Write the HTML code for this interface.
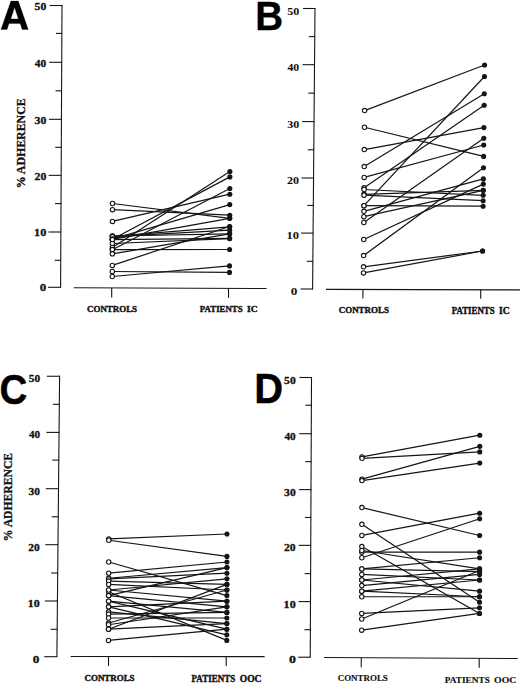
<!DOCTYPE html>
<html><head><meta charset="utf-8"><style>
html,body{margin:0;padding:0;background:#fff;}
body{width:520px;height:684px;overflow:hidden;font-family:"Liberation Sans",sans-serif;}
svg{display:block;}
</style></head><body>
<svg width="520" height="684" viewBox="0 0 520 684">
<rect width="520" height="684" fill="#fff"/>
<path fill="#000" fill-rule="evenodd" stroke="#000" stroke-width="0.3" stroke-linejoin="round" d="M1.0 29.4 L10.9 1.1 L18.3 1.1 L28.2 29.4 L22.2 29.4 L20.2 23.4 L9.0 23.4 L7.0 29.4 Z M14.6 7.3 L18.4 18.9 L10.8 18.9 Z"/>
<line x1="62.00" y1="5.00" x2="60.60" y2="287.80" stroke="#151515" stroke-width="1.1"/>
<line x1="48.10" y1="287.30" x2="60.90" y2="287.30" stroke="#151515" stroke-width="1.1"/>
<line x1="54.73" y1="260.30" x2="61.03" y2="260.30" stroke="#151515" stroke-width="1.1"/>
<line x1="48.37" y1="232.00" x2="61.17" y2="232.00" stroke="#151515" stroke-width="1.1"/>
<line x1="55.02" y1="203.60" x2="61.32" y2="203.60" stroke="#151515" stroke-width="1.1"/>
<line x1="48.66" y1="175.35" x2="61.46" y2="175.35" stroke="#151515" stroke-width="1.1"/>
<line x1="55.30" y1="147.32" x2="61.60" y2="147.32" stroke="#151515" stroke-width="1.1"/>
<line x1="48.93" y1="119.30" x2="61.73" y2="119.30" stroke="#151515" stroke-width="1.1"/>
<line x1="55.58" y1="90.80" x2="61.88" y2="90.80" stroke="#151515" stroke-width="1.1"/>
<line x1="49.22" y1="62.30" x2="62.02" y2="62.30" stroke="#151515" stroke-width="1.1"/>
<line x1="55.86" y1="33.40" x2="62.16" y2="33.40" stroke="#151515" stroke-width="1.1"/>
<line x1="49.50" y1="5.50" x2="62.30" y2="5.50" stroke="#151515" stroke-width="1.1"/>
<line x1="73.75" y1="287.75" x2="266.50" y2="288.50" stroke="#151515" stroke-width="1.1"/>
<line x1="111.70" y1="287.90" x2="111.70" y2="297.40" stroke="#151515" stroke-width="1.1"/>
<line x1="228.50" y1="288.35" x2="228.50" y2="297.85" stroke="#151515" stroke-width="1.1"/>
<text x="39.86" y="291.34" font-family='"Liberation Serif", serif' font-weight="bold" font-size="10.97" textLength="6.49" lengthAdjust="spacingAndGlyphs" fill="#111"  stroke="#111" stroke-width="0.3" stroke-linejoin="round">0</text>
<text x="34.07" y="236.45" font-family='"Liberation Serif", serif' font-weight="bold" font-size="10.37" textLength="12.25" lengthAdjust="spacingAndGlyphs" fill="#111"  stroke="#111" stroke-width="0.3" stroke-linejoin="round">10</text>
<text x="34.56" y="179.80" font-family='"Liberation Serif", serif' font-weight="bold" font-size="10.37" textLength="11.74" lengthAdjust="spacingAndGlyphs" fill="#111"  stroke="#111" stroke-width="0.3" stroke-linejoin="round">20</text>
<text x="34.61" y="123.75" font-family='"Liberation Serif", serif' font-weight="bold" font-size="10.37" textLength="11.68" lengthAdjust="spacingAndGlyphs" fill="#111"  stroke="#111" stroke-width="0.3" stroke-linejoin="round">30</text>
<text x="34.89" y="66.75" font-family='"Liberation Serif", serif' font-weight="bold" font-size="10.37" textLength="11.39" lengthAdjust="spacingAndGlyphs" fill="#111"  stroke="#111" stroke-width="0.3" stroke-linejoin="round">40</text>
<text x="34.58" y="9.95" font-family='"Liberation Serif", serif' font-weight="bold" font-size="10.37" textLength="11.72" lengthAdjust="spacingAndGlyphs" fill="#111"  stroke="#111" stroke-width="0.3" stroke-linejoin="round">50</text>
<text transform="translate(25.39,188.36) rotate(-90)" x="0" y="0" font-family='"Liberation Serif", serif' font-weight="bold" font-size="11.80" textLength="90.01" lengthAdjust="spacingAndGlyphs" fill="#111" stroke="#111" stroke-width="0.3" stroke-linejoin="round">% ADHERENCE</text>
<text x="87.01" y="311.61" font-family='"Liberation Serif", serif' font-weight="bold" font-size="8.78" textLength="50.06" lengthAdjust="spacingAndGlyphs" fill="#111"  stroke="#111" stroke-width="0.4" stroke-linejoin="round">CONTROLS</text>
<text x="199.80" y="312.21" font-family='"Liberation Serif", serif' font-weight="bold" font-size="9.08" textLength="42.86" lengthAdjust="spacingAndGlyphs" fill="#111"  stroke="#111" stroke-width="0.4" stroke-linejoin="round">PATIENTS</text>
<text x="247.13" y="312.21" font-family='"Liberation Serif", serif' font-weight="bold" font-size="9.08" textLength="10.65" lengthAdjust="spacingAndGlyphs" fill="#111"  stroke="#111" stroke-width="0.4" stroke-linejoin="round">IC</text>
<line x1="112.49" y1="203.50" x2="229.71" y2="218.30" stroke="#151515" stroke-width="1.2"/>
<line x1="112.47" y1="209.70" x2="229.72" y2="215.20" stroke="#151515" stroke-width="1.2"/>
<line x1="112.44" y1="221.40" x2="229.81" y2="194.20" stroke="#151515" stroke-width="1.2"/>
<line x1="112.41" y1="236.00" x2="229.65" y2="233.80" stroke="#151515" stroke-width="1.2"/>
<line x1="112.41" y1="236.30" x2="229.68" y2="226.80" stroke="#151515" stroke-width="1.2"/>
<line x1="112.40" y1="236.60" x2="229.67" y2="230.20" stroke="#151515" stroke-width="1.2"/>
<line x1="112.40" y1="239.20" x2="229.88" y2="176.90" stroke="#151515" stroke-width="1.2"/>
<line x1="112.40" y1="239.20" x2="229.77" y2="204.60" stroke="#151515" stroke-width="1.2"/>
<line x1="112.40" y1="239.40" x2="229.71" y2="218.30" stroke="#151515" stroke-width="1.2"/>
<line x1="112.39" y1="243.50" x2="229.63" y2="238.60" stroke="#151515" stroke-width="1.2"/>
<line x1="112.38" y1="247.50" x2="229.90" y2="171.50" stroke="#151515" stroke-width="1.2"/>
<line x1="112.37" y1="249.80" x2="229.83" y2="188.50" stroke="#151515" stroke-width="1.2"/>
<line x1="112.37" y1="249.60" x2="229.59" y2="249.50" stroke="#151515" stroke-width="1.2"/>
<line x1="112.36" y1="253.80" x2="229.65" y2="233.80" stroke="#151515" stroke-width="1.2"/>
<line x1="112.33" y1="265.40" x2="229.68" y2="226.50" stroke="#151515" stroke-width="1.2"/>
<line x1="112.31" y1="271.50" x2="229.50" y2="272.40" stroke="#151515" stroke-width="1.2"/>
<line x1="112.30" y1="276.50" x2="229.52" y2="265.90" stroke="#151515" stroke-width="1.2"/>
<line x1="112.40" y1="239.60" x2="229.63" y2="238.40" stroke="#151515" stroke-width="1.2"/>
<circle cx="229.71" cy="218.30" r="2.55" fill="#151515"/>
<circle cx="229.72" cy="215.20" r="2.55" fill="#151515"/>
<circle cx="229.81" cy="194.20" r="2.55" fill="#151515"/>
<circle cx="229.65" cy="233.80" r="2.55" fill="#151515"/>
<circle cx="229.68" cy="226.80" r="2.55" fill="#151515"/>
<circle cx="229.67" cy="230.20" r="2.55" fill="#151515"/>
<circle cx="229.88" cy="176.90" r="2.55" fill="#151515"/>
<circle cx="229.77" cy="204.60" r="2.55" fill="#151515"/>
<circle cx="229.71" cy="218.30" r="2.55" fill="#151515"/>
<circle cx="229.63" cy="238.60" r="2.55" fill="#151515"/>
<circle cx="229.90" cy="171.50" r="2.55" fill="#151515"/>
<circle cx="229.83" cy="188.50" r="2.55" fill="#151515"/>
<circle cx="229.59" cy="249.50" r="2.55" fill="#151515"/>
<circle cx="229.65" cy="233.80" r="2.55" fill="#151515"/>
<circle cx="229.68" cy="226.50" r="2.55" fill="#151515"/>
<circle cx="229.50" cy="272.40" r="2.55" fill="#151515"/>
<circle cx="229.52" cy="265.90" r="2.55" fill="#151515"/>
<circle cx="229.63" cy="238.40" r="2.55" fill="#151515"/>
<circle cx="112.49" cy="203.50" r="2.2" fill="#fff" stroke="#151515" stroke-width="1.1"/>
<circle cx="112.47" cy="209.70" r="2.2" fill="#fff" stroke="#151515" stroke-width="1.1"/>
<circle cx="112.44" cy="221.40" r="2.2" fill="#fff" stroke="#151515" stroke-width="1.1"/>
<circle cx="112.41" cy="236.00" r="2.2" fill="#fff" stroke="#151515" stroke-width="1.1"/>
<circle cx="112.41" cy="236.30" r="2.2" fill="#fff" stroke="#151515" stroke-width="1.1"/>
<circle cx="112.40" cy="236.60" r="2.2" fill="#fff" stroke="#151515" stroke-width="1.1"/>
<circle cx="112.40" cy="239.20" r="2.2" fill="#fff" stroke="#151515" stroke-width="1.1"/>
<circle cx="112.40" cy="239.20" r="2.2" fill="#fff" stroke="#151515" stroke-width="1.1"/>
<circle cx="112.40" cy="239.40" r="2.2" fill="#fff" stroke="#151515" stroke-width="1.1"/>
<circle cx="112.39" cy="243.50" r="2.2" fill="#fff" stroke="#151515" stroke-width="1.1"/>
<circle cx="112.38" cy="247.50" r="2.2" fill="#fff" stroke="#151515" stroke-width="1.1"/>
<circle cx="112.37" cy="249.80" r="2.2" fill="#fff" stroke="#151515" stroke-width="1.1"/>
<circle cx="112.37" cy="249.60" r="2.2" fill="#fff" stroke="#151515" stroke-width="1.1"/>
<circle cx="112.36" cy="253.80" r="2.2" fill="#fff" stroke="#151515" stroke-width="1.1"/>
<circle cx="112.33" cy="265.40" r="2.2" fill="#fff" stroke="#151515" stroke-width="1.1"/>
<circle cx="112.31" cy="271.50" r="2.2" fill="#fff" stroke="#151515" stroke-width="1.1"/>
<circle cx="112.30" cy="276.50" r="2.2" fill="#fff" stroke="#151515" stroke-width="1.1"/>
<circle cx="112.40" cy="239.60" r="2.2" fill="#fff" stroke="#151515" stroke-width="1.1"/>
<text x="255.32" y="29.80" font-family='"Liberation Sans", sans-serif' font-weight="bold" font-size="41.57" textLength="27.83" lengthAdjust="spacingAndGlyphs" fill="#000"  stroke="#000" stroke-width="0.4" stroke-linejoin="round">B</text>
<line x1="315.00" y1="8.00" x2="312.60" y2="289.50" stroke="#151515" stroke-width="1.1"/>
<line x1="300.60" y1="289.00" x2="312.90" y2="289.00" stroke="#151515" stroke-width="1.1"/>
<line x1="306.84" y1="261.30" x2="313.14" y2="261.30" stroke="#151515" stroke-width="1.1"/>
<line x1="301.08" y1="233.10" x2="313.38" y2="233.10" stroke="#151515" stroke-width="1.1"/>
<line x1="307.32" y1="205.40" x2="313.62" y2="205.40" stroke="#151515" stroke-width="1.1"/>
<line x1="301.55" y1="178.00" x2="313.85" y2="178.00" stroke="#151515" stroke-width="1.1"/>
<line x1="307.79" y1="149.80" x2="314.09" y2="149.80" stroke="#151515" stroke-width="1.1"/>
<line x1="302.03" y1="121.60" x2="314.33" y2="121.60" stroke="#151515" stroke-width="1.1"/>
<line x1="308.28" y1="93.15" x2="314.58" y2="93.15" stroke="#151515" stroke-width="1.1"/>
<line x1="302.52" y1="64.70" x2="314.82" y2="64.70" stroke="#151515" stroke-width="1.1"/>
<line x1="308.76" y1="36.60" x2="315.06" y2="36.60" stroke="#151515" stroke-width="1.1"/>
<line x1="303.00" y1="8.50" x2="315.30" y2="8.50" stroke="#151515" stroke-width="1.1"/>
<line x1="326.00" y1="289.40" x2="520.00" y2="289.90" stroke="#151515" stroke-width="1.1"/>
<line x1="362.90" y1="289.50" x2="362.90" y2="298.50" stroke="#151515" stroke-width="1.1"/>
<line x1="480.70" y1="289.80" x2="480.70" y2="298.80" stroke="#151515" stroke-width="1.1"/>
<text x="290.77" y="294.77" font-family='"Liberation Serif", serif' font-weight="bold" font-size="10.45" textLength="6.61" lengthAdjust="spacingAndGlyphs" fill="#111"  stroke="#111" stroke-width="0.05" stroke-linejoin="round">0</text>
<text x="286.62" y="239.37" font-family='"Liberation Serif", serif' font-weight="bold" font-size="10.45" textLength="12.53" lengthAdjust="spacingAndGlyphs" fill="#111"  stroke="#111" stroke-width="0.05" stroke-linejoin="round">10</text>
<text x="287.12" y="184.27" font-family='"Liberation Serif", serif' font-weight="bold" font-size="10.45" textLength="12.01" lengthAdjust="spacingAndGlyphs" fill="#111"  stroke="#111" stroke-width="0.05" stroke-linejoin="round">20</text>
<text x="287.18" y="127.87" font-family='"Liberation Serif", serif' font-weight="bold" font-size="10.45" textLength="11.95" lengthAdjust="spacingAndGlyphs" fill="#111"  stroke="#111" stroke-width="0.05" stroke-linejoin="round">30</text>
<text x="287.47" y="70.97" font-family='"Liberation Serif", serif' font-weight="bold" font-size="10.45" textLength="11.65" lengthAdjust="spacingAndGlyphs" fill="#111"  stroke="#111" stroke-width="0.05" stroke-linejoin="round">40</text>
<text x="287.15" y="14.77" font-family='"Liberation Serif", serif' font-weight="bold" font-size="10.45" textLength="11.99" lengthAdjust="spacingAndGlyphs" fill="#111"  stroke="#111" stroke-width="0.05" stroke-linejoin="round">50</text>
<text x="338.76" y="313.21" font-family='"Liberation Serif", serif' font-weight="bold" font-size="8.71" textLength="50.17" lengthAdjust="spacingAndGlyphs" fill="#111"  stroke="#111" stroke-width="0.4" stroke-linejoin="round">CONTROLS</text>
<text x="451.65" y="314.01" font-family='"Liberation Serif", serif' font-weight="bold" font-size="9.38" textLength="43.01" lengthAdjust="spacingAndGlyphs" fill="#111"  stroke="#111" stroke-width="0.4" stroke-linejoin="round">PATIENTS</text>
<text x="499.08" y="314.01" font-family='"Liberation Serif", serif' font-weight="bold" font-size="9.38" textLength="10.65" lengthAdjust="spacingAndGlyphs" fill="#111"  stroke="#111" stroke-width="0.4" stroke-linejoin="round">IC</text>
<line x1="364.60" y1="110.60" x2="484.60" y2="65.00" stroke="#151515" stroke-width="1.2"/>
<line x1="364.48" y1="127.25" x2="483.62" y2="156.40" stroke="#151515" stroke-width="1.2"/>
<line x1="364.33" y1="149.60" x2="483.93" y2="127.60" stroke="#151515" stroke-width="1.2"/>
<line x1="364.22" y1="166.60" x2="484.29" y2="93.75" stroke="#151515" stroke-width="1.2"/>
<line x1="364.15" y1="177.40" x2="483.74" y2="145.00" stroke="#151515" stroke-width="1.2"/>
<line x1="364.07" y1="187.80" x2="484.17" y2="105.25" stroke="#151515" stroke-width="1.2"/>
<line x1="364.06" y1="189.50" x2="483.20" y2="195.30" stroke="#151515" stroke-width="1.2"/>
<line x1="364.03" y1="194.30" x2="483.25" y2="190.30" stroke="#151515" stroke-width="1.2"/>
<line x1="364.03" y1="195.20" x2="483.14" y2="200.70" stroke="#151515" stroke-width="1.2"/>
<line x1="363.95" y1="205.70" x2="484.48" y2="76.50" stroke="#151515" stroke-width="1.2"/>
<line x1="363.95" y1="205.70" x2="483.08" y2="206.20" stroke="#151515" stroke-width="1.2"/>
<line x1="363.92" y1="211.30" x2="483.38" y2="178.90" stroke="#151515" stroke-width="1.2"/>
<line x1="363.88" y1="216.70" x2="483.25" y2="190.30" stroke="#151515" stroke-width="1.2"/>
<line x1="363.84" y1="222.50" x2="483.81" y2="138.30" stroke="#151515" stroke-width="1.2"/>
<line x1="363.73" y1="239.50" x2="483.32" y2="184.10" stroke="#151515" stroke-width="1.2"/>
<line x1="363.62" y1="255.60" x2="483.49" y2="167.80" stroke="#151515" stroke-width="1.2"/>
<line x1="363.54" y1="266.80" x2="482.60" y2="251.00" stroke="#151515" stroke-width="1.2"/>
<line x1="363.50" y1="272.90" x2="482.60" y2="251.00" stroke="#151515" stroke-width="1.2"/>
<circle cx="484.60" cy="65.00" r="2.55" fill="#151515"/>
<circle cx="483.62" cy="156.40" r="2.55" fill="#151515"/>
<circle cx="483.93" cy="127.60" r="2.55" fill="#151515"/>
<circle cx="484.29" cy="93.75" r="2.55" fill="#151515"/>
<circle cx="483.74" cy="145.00" r="2.55" fill="#151515"/>
<circle cx="484.17" cy="105.25" r="2.55" fill="#151515"/>
<circle cx="483.20" cy="195.30" r="2.55" fill="#151515"/>
<circle cx="483.25" cy="190.30" r="2.55" fill="#151515"/>
<circle cx="483.14" cy="200.70" r="2.55" fill="#151515"/>
<circle cx="484.48" cy="76.50" r="2.55" fill="#151515"/>
<circle cx="483.08" cy="206.20" r="2.55" fill="#151515"/>
<circle cx="483.38" cy="178.90" r="2.55" fill="#151515"/>
<circle cx="483.25" cy="190.30" r="2.55" fill="#151515"/>
<circle cx="483.81" cy="138.30" r="2.55" fill="#151515"/>
<circle cx="483.32" cy="184.10" r="2.55" fill="#151515"/>
<circle cx="483.49" cy="167.80" r="2.55" fill="#151515"/>
<circle cx="482.60" cy="251.00" r="2.55" fill="#151515"/>
<circle cx="482.60" cy="251.00" r="2.55" fill="#151515"/>
<circle cx="364.60" cy="110.60" r="2.2" fill="#fff" stroke="#151515" stroke-width="1.1"/>
<circle cx="364.48" cy="127.25" r="2.2" fill="#fff" stroke="#151515" stroke-width="1.1"/>
<circle cx="364.33" cy="149.60" r="2.2" fill="#fff" stroke="#151515" stroke-width="1.1"/>
<circle cx="364.22" cy="166.60" r="2.2" fill="#fff" stroke="#151515" stroke-width="1.1"/>
<circle cx="364.15" cy="177.40" r="2.2" fill="#fff" stroke="#151515" stroke-width="1.1"/>
<circle cx="364.07" cy="187.80" r="2.2" fill="#fff" stroke="#151515" stroke-width="1.1"/>
<circle cx="364.06" cy="189.50" r="2.2" fill="#fff" stroke="#151515" stroke-width="1.1"/>
<circle cx="364.03" cy="194.30" r="2.2" fill="#fff" stroke="#151515" stroke-width="1.1"/>
<circle cx="364.03" cy="195.20" r="2.2" fill="#fff" stroke="#151515" stroke-width="1.1"/>
<circle cx="363.95" cy="205.70" r="2.2" fill="#fff" stroke="#151515" stroke-width="1.1"/>
<circle cx="363.95" cy="205.70" r="2.2" fill="#fff" stroke="#151515" stroke-width="1.1"/>
<circle cx="363.92" cy="211.30" r="2.2" fill="#fff" stroke="#151515" stroke-width="1.1"/>
<circle cx="363.88" cy="216.70" r="2.2" fill="#fff" stroke="#151515" stroke-width="1.1"/>
<circle cx="363.84" cy="222.50" r="2.2" fill="#fff" stroke="#151515" stroke-width="1.1"/>
<circle cx="363.73" cy="239.50" r="2.2" fill="#fff" stroke="#151515" stroke-width="1.1"/>
<circle cx="363.62" cy="255.60" r="2.2" fill="#fff" stroke="#151515" stroke-width="1.1"/>
<circle cx="363.54" cy="266.80" r="2.2" fill="#fff" stroke="#151515" stroke-width="1.1"/>
<circle cx="363.50" cy="272.90" r="2.2" fill="#fff" stroke="#151515" stroke-width="1.1"/>
<text x="-0.38" y="404.39" font-family='"Liberation Sans", sans-serif' font-weight="bold" font-size="42.23" textLength="27.83" lengthAdjust="spacingAndGlyphs" fill="#000"  stroke="#000" stroke-width="0.4" stroke-linejoin="round">C</text>
<line x1="59.60" y1="375.75" x2="56.90" y2="657.10" stroke="#151515" stroke-width="1.1"/>
<line x1="44.20" y1="656.70" x2="57.20" y2="656.70" stroke="#151515" stroke-width="1.1"/>
<line x1="50.66" y1="629.30" x2="57.46" y2="629.30" stroke="#151515" stroke-width="1.1"/>
<line x1="44.74" y1="601.00" x2="57.74" y2="601.00" stroke="#151515" stroke-width="1.1"/>
<line x1="51.21" y1="573.00" x2="58.01" y2="573.00" stroke="#151515" stroke-width="1.1"/>
<line x1="45.28" y1="544.70" x2="58.28" y2="544.70" stroke="#151515" stroke-width="1.1"/>
<line x1="51.75" y1="516.80" x2="58.55" y2="516.80" stroke="#151515" stroke-width="1.1"/>
<line x1="45.82" y1="488.70" x2="58.82" y2="488.70" stroke="#151515" stroke-width="1.1"/>
<line x1="52.29" y1="460.10" x2="59.09" y2="460.10" stroke="#151515" stroke-width="1.1"/>
<line x1="46.36" y1="432.40" x2="59.36" y2="432.40" stroke="#151515" stroke-width="1.1"/>
<line x1="52.83" y1="404.30" x2="59.63" y2="404.30" stroke="#151515" stroke-width="1.1"/>
<line x1="46.90" y1="376.25" x2="59.90" y2="376.25" stroke="#151515" stroke-width="1.1"/>
<line x1="70.60" y1="656.50" x2="264.60" y2="656.60" stroke="#151515" stroke-width="1.1"/>
<line x1="108.50" y1="656.52" x2="108.50" y2="666.02" stroke="#151515" stroke-width="1.1"/>
<line x1="226.20" y1="656.58" x2="226.20" y2="666.08" stroke="#151515" stroke-width="1.1"/>
<text x="32.75" y="662.54" font-family='"Liberation Serif", serif' font-weight="bold" font-size="10.97" textLength="6.61" lengthAdjust="spacingAndGlyphs" fill="#111"  stroke="#111" stroke-width="0.3" stroke-linejoin="round">0</text>
<text x="27.76" y="606.95" font-family='"Liberation Serif", serif' font-weight="bold" font-size="10.08" textLength="11.91" lengthAdjust="spacingAndGlyphs" fill="#111"  stroke="#111" stroke-width="0.3" stroke-linejoin="round">10</text>
<text x="28.39" y="550.65" font-family='"Liberation Serif", serif' font-weight="bold" font-size="10.08" textLength="11.41" lengthAdjust="spacingAndGlyphs" fill="#111"  stroke="#111" stroke-width="0.3" stroke-linejoin="round">20</text>
<text x="28.60" y="494.65" font-family='"Liberation Serif", serif' font-weight="bold" font-size="10.08" textLength="11.36" lengthAdjust="spacingAndGlyphs" fill="#111"  stroke="#111" stroke-width="0.3" stroke-linejoin="round">30</text>
<text x="29.04" y="438.35" font-family='"Liberation Serif", serif' font-weight="bold" font-size="10.08" textLength="11.07" lengthAdjust="spacingAndGlyphs" fill="#111"  stroke="#111" stroke-width="0.3" stroke-linejoin="round">40</text>
<text x="28.89" y="382.20" font-family='"Liberation Serif", serif' font-weight="bold" font-size="10.08" textLength="11.39" lengthAdjust="spacingAndGlyphs" fill="#111"  stroke="#111" stroke-width="0.3" stroke-linejoin="round">50</text>
<text transform="translate(11.89,541.24) rotate(-90)" x="0" y="0" font-family='"Liberation Serif", serif' font-weight="bold" font-size="11.94" textLength="88.38" lengthAdjust="spacingAndGlyphs" fill="#111" stroke="#111" stroke-width="0.3" stroke-linejoin="round">% ADHERENCE</text>
<text x="84.51" y="680.72" font-family='"Liberation Serif", serif' font-weight="bold" font-size="8.33" textLength="50.06" lengthAdjust="spacingAndGlyphs" fill="#111"  stroke="#111" stroke-width="0.4" stroke-linejoin="round">CONTROLS</text>
<text x="191.55" y="681.61" font-family='"Liberation Serif", serif' font-weight="bold" font-size="9.67" textLength="43.62" lengthAdjust="spacingAndGlyphs" fill="#111"  stroke="#111" stroke-width="0.4" stroke-linejoin="round">PATIENTS</text>
<text x="239.73" y="681.61" font-family='"Liberation Serif", serif' font-weight="bold" font-size="9.67" textLength="21.80" lengthAdjust="spacingAndGlyphs" fill="#111"  stroke="#111" stroke-width="0.4" stroke-linejoin="round">OOC</text>
<line x1="108.80" y1="538.93" x2="227.00" y2="534.00" stroke="#151515" stroke-width="1.2"/>
<line x1="108.80" y1="540.27" x2="226.96" y2="556.40" stroke="#151515" stroke-width="1.2"/>
<line x1="108.73" y1="562.00" x2="226.88" y2="595.60" stroke="#151515" stroke-width="1.2"/>
<line x1="108.70" y1="573.20" x2="226.95" y2="562.00" stroke="#151515" stroke-width="1.2"/>
<line x1="108.68" y1="578.24" x2="226.94" y2="567.60" stroke="#151515" stroke-width="1.2"/>
<line x1="108.68" y1="578.80" x2="226.93" y2="573.20" stroke="#151515" stroke-width="1.2"/>
<line x1="108.68" y1="581.04" x2="226.90" y2="584.40" stroke="#151515" stroke-width="1.2"/>
<line x1="108.67" y1="584.40" x2="226.89" y2="590.00" stroke="#151515" stroke-width="1.2"/>
<line x1="108.65" y1="590.00" x2="226.92" y2="578.80" stroke="#151515" stroke-width="1.2"/>
<line x1="108.64" y1="591.68" x2="226.80" y2="640.40" stroke="#151515" stroke-width="1.2"/>
<line x1="108.65" y1="590.00" x2="226.87" y2="601.20" stroke="#151515" stroke-width="1.2"/>
<line x1="108.63" y1="595.60" x2="226.94" y2="567.60" stroke="#151515" stroke-width="1.2"/>
<line x1="108.63" y1="595.60" x2="226.86" y2="606.80" stroke="#151515" stroke-width="1.2"/>
<line x1="108.62" y1="601.20" x2="226.82" y2="629.20" stroke="#151515" stroke-width="1.2"/>
<line x1="108.62" y1="601.20" x2="226.85" y2="612.40" stroke="#151515" stroke-width="1.2"/>
<line x1="108.60" y1="606.80" x2="226.87" y2="601.20" stroke="#151515" stroke-width="1.2"/>
<line x1="108.60" y1="606.80" x2="226.81" y2="634.80" stroke="#151515" stroke-width="1.2"/>
<line x1="108.58" y1="611.84" x2="226.83" y2="623.60" stroke="#151515" stroke-width="1.2"/>
<line x1="108.58" y1="614.08" x2="226.85" y2="612.40" stroke="#151515" stroke-width="1.2"/>
<line x1="108.57" y1="618.00" x2="226.84" y2="618.00" stroke="#151515" stroke-width="1.2"/>
<line x1="108.55" y1="623.04" x2="226.89" y2="590.00" stroke="#151515" stroke-width="1.2"/>
<line x1="108.55" y1="624.72" x2="226.86" y2="606.80" stroke="#151515" stroke-width="1.2"/>
<line x1="108.53" y1="629.20" x2="226.90" y2="584.40" stroke="#151515" stroke-width="1.2"/>
<line x1="108.53" y1="629.20" x2="226.83" y2="623.60" stroke="#151515" stroke-width="1.2"/>
<line x1="108.50" y1="640.40" x2="226.82" y2="629.20" stroke="#151515" stroke-width="1.2"/>
<circle cx="227.00" cy="534.00" r="2.55" fill="#151515"/>
<circle cx="226.96" cy="556.40" r="2.55" fill="#151515"/>
<circle cx="226.88" cy="595.60" r="2.55" fill="#151515"/>
<circle cx="226.95" cy="562.00" r="2.55" fill="#151515"/>
<circle cx="226.94" cy="567.60" r="2.55" fill="#151515"/>
<circle cx="226.93" cy="573.20" r="2.55" fill="#151515"/>
<circle cx="226.90" cy="584.40" r="2.55" fill="#151515"/>
<circle cx="226.89" cy="590.00" r="2.55" fill="#151515"/>
<circle cx="226.92" cy="578.80" r="2.55" fill="#151515"/>
<circle cx="226.80" cy="640.40" r="2.55" fill="#151515"/>
<circle cx="226.87" cy="601.20" r="2.55" fill="#151515"/>
<circle cx="226.94" cy="567.60" r="2.55" fill="#151515"/>
<circle cx="226.86" cy="606.80" r="2.55" fill="#151515"/>
<circle cx="226.82" cy="629.20" r="2.55" fill="#151515"/>
<circle cx="226.85" cy="612.40" r="2.55" fill="#151515"/>
<circle cx="226.87" cy="601.20" r="2.55" fill="#151515"/>
<circle cx="226.81" cy="634.80" r="2.55" fill="#151515"/>
<circle cx="226.83" cy="623.60" r="2.55" fill="#151515"/>
<circle cx="226.85" cy="612.40" r="2.55" fill="#151515"/>
<circle cx="226.84" cy="618.00" r="2.55" fill="#151515"/>
<circle cx="226.89" cy="590.00" r="2.55" fill="#151515"/>
<circle cx="226.86" cy="606.80" r="2.55" fill="#151515"/>
<circle cx="226.90" cy="584.40" r="2.55" fill="#151515"/>
<circle cx="226.83" cy="623.60" r="2.55" fill="#151515"/>
<circle cx="226.82" cy="629.20" r="2.55" fill="#151515"/>
<circle cx="108.80" cy="538.93" r="2.2" fill="#fff" stroke="#151515" stroke-width="1.1"/>
<circle cx="108.80" cy="540.27" r="2.2" fill="#fff" stroke="#151515" stroke-width="1.1"/>
<circle cx="108.73" cy="562.00" r="2.2" fill="#fff" stroke="#151515" stroke-width="1.1"/>
<circle cx="108.70" cy="573.20" r="2.2" fill="#fff" stroke="#151515" stroke-width="1.1"/>
<circle cx="108.68" cy="578.24" r="2.2" fill="#fff" stroke="#151515" stroke-width="1.1"/>
<circle cx="108.68" cy="578.80" r="2.2" fill="#fff" stroke="#151515" stroke-width="1.1"/>
<circle cx="108.68" cy="581.04" r="2.2" fill="#fff" stroke="#151515" stroke-width="1.1"/>
<circle cx="108.67" cy="584.40" r="2.2" fill="#fff" stroke="#151515" stroke-width="1.1"/>
<circle cx="108.65" cy="590.00" r="2.2" fill="#fff" stroke="#151515" stroke-width="1.1"/>
<circle cx="108.64" cy="591.68" r="2.2" fill="#fff" stroke="#151515" stroke-width="1.1"/>
<circle cx="108.65" cy="590.00" r="2.2" fill="#fff" stroke="#151515" stroke-width="1.1"/>
<circle cx="108.63" cy="595.60" r="2.2" fill="#fff" stroke="#151515" stroke-width="1.1"/>
<circle cx="108.63" cy="595.60" r="2.2" fill="#fff" stroke="#151515" stroke-width="1.1"/>
<circle cx="108.62" cy="601.20" r="2.2" fill="#fff" stroke="#151515" stroke-width="1.1"/>
<circle cx="108.62" cy="601.20" r="2.2" fill="#fff" stroke="#151515" stroke-width="1.1"/>
<circle cx="108.60" cy="606.80" r="2.2" fill="#fff" stroke="#151515" stroke-width="1.1"/>
<circle cx="108.60" cy="606.80" r="2.2" fill="#fff" stroke="#151515" stroke-width="1.1"/>
<circle cx="108.58" cy="611.84" r="2.2" fill="#fff" stroke="#151515" stroke-width="1.1"/>
<circle cx="108.58" cy="614.08" r="2.2" fill="#fff" stroke="#151515" stroke-width="1.1"/>
<circle cx="108.57" cy="618.00" r="2.2" fill="#fff" stroke="#151515" stroke-width="1.1"/>
<circle cx="108.55" cy="623.04" r="2.2" fill="#fff" stroke="#151515" stroke-width="1.1"/>
<circle cx="108.55" cy="624.72" r="2.2" fill="#fff" stroke="#151515" stroke-width="1.1"/>
<circle cx="108.53" cy="629.20" r="2.2" fill="#fff" stroke="#151515" stroke-width="1.1"/>
<circle cx="108.53" cy="629.20" r="2.2" fill="#fff" stroke="#151515" stroke-width="1.1"/>
<circle cx="108.50" cy="640.40" r="2.2" fill="#fff" stroke="#151515" stroke-width="1.1"/>
<text x="254.23" y="403.40" font-family='"Liberation Sans", sans-serif' font-weight="bold" font-size="42.44" textLength="28.85" lengthAdjust="spacingAndGlyphs" fill="#000"  stroke="#000" stroke-width="0.4" stroke-linejoin="round">D</text>
<line x1="311.50" y1="377.00" x2="310.25" y2="657.60" stroke="#151515" stroke-width="1.1"/>
<line x1="298.25" y1="657.20" x2="310.55" y2="657.20" stroke="#151515" stroke-width="1.1"/>
<line x1="304.37" y1="629.70" x2="310.67" y2="629.70" stroke="#151515" stroke-width="1.1"/>
<line x1="298.50" y1="601.60" x2="310.80" y2="601.60" stroke="#151515" stroke-width="1.1"/>
<line x1="304.62" y1="573.60" x2="310.92" y2="573.60" stroke="#151515" stroke-width="1.1"/>
<line x1="298.75" y1="545.35" x2="311.05" y2="545.35" stroke="#151515" stroke-width="1.1"/>
<line x1="304.87" y1="517.48" x2="311.17" y2="517.48" stroke="#151515" stroke-width="1.1"/>
<line x1="299.00" y1="489.60" x2="311.30" y2="489.60" stroke="#151515" stroke-width="1.1"/>
<line x1="305.12" y1="461.65" x2="311.42" y2="461.65" stroke="#151515" stroke-width="1.1"/>
<line x1="299.25" y1="433.70" x2="311.55" y2="433.70" stroke="#151515" stroke-width="1.1"/>
<line x1="305.38" y1="405.25" x2="311.68" y2="405.25" stroke="#151515" stroke-width="1.1"/>
<line x1="299.50" y1="377.50" x2="311.80" y2="377.50" stroke="#151515" stroke-width="1.1"/>
<line x1="324.00" y1="657.50" x2="517.70" y2="658.50" stroke="#151515" stroke-width="1.1"/>
<line x1="361.25" y1="657.69" x2="361.25" y2="667.19" stroke="#151515" stroke-width="1.1"/>
<line x1="479.20" y1="658.30" x2="479.20" y2="667.80" stroke="#151515" stroke-width="1.1"/>
<text x="289.02" y="662.95" font-family='"Liberation Serif", serif' font-weight="bold" font-size="10.08" textLength="6.96" lengthAdjust="spacingAndGlyphs" fill="#111"  stroke="#111" stroke-width="0.3" stroke-linejoin="round">0</text>
<text x="283.58" y="607.65" font-family='"Liberation Serif", serif' font-weight="bold" font-size="10.23" textLength="12.13" lengthAdjust="spacingAndGlyphs" fill="#111"  stroke="#111" stroke-width="0.3" stroke-linejoin="round">10</text>
<text x="284.06" y="551.40" font-family='"Liberation Serif", serif' font-weight="bold" font-size="10.23" textLength="11.63" lengthAdjust="spacingAndGlyphs" fill="#111"  stroke="#111" stroke-width="0.3" stroke-linejoin="round">20</text>
<text x="284.11" y="495.65" font-family='"Liberation Serif", serif' font-weight="bold" font-size="10.23" textLength="11.58" lengthAdjust="spacingAndGlyphs" fill="#111"  stroke="#111" stroke-width="0.3" stroke-linejoin="round">30</text>
<text x="284.40" y="439.75" font-family='"Liberation Serif", serif' font-weight="bold" font-size="10.23" textLength="11.28" lengthAdjust="spacingAndGlyphs" fill="#111"  stroke="#111" stroke-width="0.3" stroke-linejoin="round">40</text>
<text x="284.09" y="383.55" font-family='"Liberation Serif", serif' font-weight="bold" font-size="10.23" textLength="11.61" lengthAdjust="spacingAndGlyphs" fill="#111"  stroke="#111" stroke-width="0.3" stroke-linejoin="round">50</text>
<text x="337.74" y="681.34" font-family='"Liberation Serif", serif' font-weight="bold" font-size="8.56" textLength="50.06" lengthAdjust="spacingAndGlyphs" fill="#111"  stroke="#111" stroke-width="0.15" stroke-linejoin="round">CONTROLS</text>
<text x="444.82" y="682.54" font-family='"Liberation Serif", serif' font-weight="bold" font-size="9.00" textLength="44.99" lengthAdjust="spacingAndGlyphs" fill="#111"  stroke="#111" stroke-width="0.15" stroke-linejoin="round">PATIENTS</text>
<text x="494.10" y="682.54" font-family='"Liberation Serif", serif' font-weight="bold" font-size="9.00" textLength="22.27" lengthAdjust="spacingAndGlyphs" fill="#111"  stroke="#111" stroke-width="0.15" stroke-linejoin="round">OOC</text>
<line x1="362.00" y1="456.92" x2="479.80" y2="435.20" stroke="#151515" stroke-width="1.2"/>
<line x1="362.00" y1="458.32" x2="479.77" y2="451.91" stroke="#151515" stroke-width="1.2"/>
<line x1="361.96" y1="479.20" x2="479.78" y2="446.34" stroke="#151515" stroke-width="1.2"/>
<line x1="361.96" y1="480.60" x2="479.75" y2="463.05" stroke="#151515" stroke-width="1.2"/>
<line x1="361.91" y1="507.61" x2="479.63" y2="535.46" stroke="#151515" stroke-width="1.2"/>
<line x1="361.88" y1="524.32" x2="479.52" y2="602.30" stroke="#151515" stroke-width="1.2"/>
<line x1="361.86" y1="535.46" x2="479.67" y2="513.18" stroke="#151515" stroke-width="1.2"/>
<line x1="361.82" y1="557.74" x2="479.66" y2="518.75" stroke="#151515" stroke-width="1.2"/>
<line x1="361.84" y1="546.60" x2="479.50" y2="613.44" stroke="#151515" stroke-width="1.2"/>
<line x1="361.83" y1="552.17" x2="479.60" y2="552.17" stroke="#151515" stroke-width="1.2"/>
<line x1="361.84" y1="550.50" x2="479.58" y2="568.88" stroke="#151515" stroke-width="1.2"/>
<line x1="361.81" y1="568.88" x2="479.59" y2="557.74" stroke="#151515" stroke-width="1.2"/>
<line x1="361.81" y1="568.88" x2="479.57" y2="571.66" stroke="#151515" stroke-width="1.2"/>
<line x1="361.80" y1="574.45" x2="479.56" y2="580.02" stroke="#151515" stroke-width="1.2"/>
<line x1="361.79" y1="580.02" x2="479.58" y2="568.88" stroke="#151515" stroke-width="1.2"/>
<line x1="361.78" y1="585.59" x2="479.57" y2="574.45" stroke="#151515" stroke-width="1.2"/>
<line x1="361.77" y1="591.16" x2="479.56" y2="580.02" stroke="#151515" stroke-width="1.2"/>
<line x1="361.79" y1="580.02" x2="479.54" y2="591.16" stroke="#151515" stroke-width="1.2"/>
<line x1="361.77" y1="591.16" x2="479.53" y2="596.73" stroke="#151515" stroke-width="1.2"/>
<line x1="361.76" y1="596.73" x2="479.53" y2="596.73" stroke="#151515" stroke-width="1.2"/>
<line x1="361.73" y1="613.44" x2="479.51" y2="607.87" stroke="#151515" stroke-width="1.2"/>
<line x1="361.72" y1="619.01" x2="479.57" y2="570.55" stroke="#151515" stroke-width="1.2"/>
<line x1="361.70" y1="630.15" x2="479.50" y2="613.44" stroke="#151515" stroke-width="1.2"/>
<circle cx="479.80" cy="435.20" r="2.55" fill="#151515"/>
<circle cx="479.77" cy="451.91" r="2.55" fill="#151515"/>
<circle cx="479.78" cy="446.34" r="2.55" fill="#151515"/>
<circle cx="479.75" cy="463.05" r="2.55" fill="#151515"/>
<circle cx="479.63" cy="535.46" r="2.55" fill="#151515"/>
<circle cx="479.52" cy="602.30" r="2.55" fill="#151515"/>
<circle cx="479.67" cy="513.18" r="2.55" fill="#151515"/>
<circle cx="479.66" cy="518.75" r="2.55" fill="#151515"/>
<circle cx="479.50" cy="613.44" r="2.55" fill="#151515"/>
<circle cx="479.60" cy="552.17" r="2.55" fill="#151515"/>
<circle cx="479.58" cy="568.88" r="2.55" fill="#151515"/>
<circle cx="479.59" cy="557.74" r="2.55" fill="#151515"/>
<circle cx="479.57" cy="571.66" r="2.55" fill="#151515"/>
<circle cx="479.56" cy="580.02" r="2.55" fill="#151515"/>
<circle cx="479.58" cy="568.88" r="2.55" fill="#151515"/>
<circle cx="479.57" cy="574.45" r="2.55" fill="#151515"/>
<circle cx="479.56" cy="580.02" r="2.55" fill="#151515"/>
<circle cx="479.54" cy="591.16" r="2.55" fill="#151515"/>
<circle cx="479.53" cy="596.73" r="2.55" fill="#151515"/>
<circle cx="479.53" cy="596.73" r="2.55" fill="#151515"/>
<circle cx="479.51" cy="607.87" r="2.55" fill="#151515"/>
<circle cx="479.57" cy="570.55" r="2.55" fill="#151515"/>
<circle cx="479.50" cy="613.44" r="2.55" fill="#151515"/>
<circle cx="362.00" cy="456.92" r="2.2" fill="#fff" stroke="#151515" stroke-width="1.1"/>
<circle cx="362.00" cy="458.32" r="2.2" fill="#fff" stroke="#151515" stroke-width="1.1"/>
<circle cx="361.96" cy="479.20" r="2.2" fill="#fff" stroke="#151515" stroke-width="1.1"/>
<circle cx="361.96" cy="480.60" r="2.2" fill="#fff" stroke="#151515" stroke-width="1.1"/>
<circle cx="361.91" cy="507.61" r="2.2" fill="#fff" stroke="#151515" stroke-width="1.1"/>
<circle cx="361.88" cy="524.32" r="2.2" fill="#fff" stroke="#151515" stroke-width="1.1"/>
<circle cx="361.86" cy="535.46" r="2.2" fill="#fff" stroke="#151515" stroke-width="1.1"/>
<circle cx="361.82" cy="557.74" r="2.2" fill="#fff" stroke="#151515" stroke-width="1.1"/>
<circle cx="361.84" cy="546.60" r="2.2" fill="#fff" stroke="#151515" stroke-width="1.1"/>
<circle cx="361.83" cy="552.17" r="2.2" fill="#fff" stroke="#151515" stroke-width="1.1"/>
<circle cx="361.84" cy="550.50" r="2.2" fill="#fff" stroke="#151515" stroke-width="1.1"/>
<circle cx="361.81" cy="568.88" r="2.2" fill="#fff" stroke="#151515" stroke-width="1.1"/>
<circle cx="361.81" cy="568.88" r="2.2" fill="#fff" stroke="#151515" stroke-width="1.1"/>
<circle cx="361.80" cy="574.45" r="2.2" fill="#fff" stroke="#151515" stroke-width="1.1"/>
<circle cx="361.79" cy="580.02" r="2.2" fill="#fff" stroke="#151515" stroke-width="1.1"/>
<circle cx="361.78" cy="585.59" r="2.2" fill="#fff" stroke="#151515" stroke-width="1.1"/>
<circle cx="361.77" cy="591.16" r="2.2" fill="#fff" stroke="#151515" stroke-width="1.1"/>
<circle cx="361.79" cy="580.02" r="2.2" fill="#fff" stroke="#151515" stroke-width="1.1"/>
<circle cx="361.77" cy="591.16" r="2.2" fill="#fff" stroke="#151515" stroke-width="1.1"/>
<circle cx="361.76" cy="596.73" r="2.2" fill="#fff" stroke="#151515" stroke-width="1.1"/>
<circle cx="361.73" cy="613.44" r="2.2" fill="#fff" stroke="#151515" stroke-width="1.1"/>
<circle cx="361.72" cy="619.01" r="2.2" fill="#fff" stroke="#151515" stroke-width="1.1"/>
<circle cx="361.70" cy="630.15" r="2.2" fill="#fff" stroke="#151515" stroke-width="1.1"/>
</svg>
</body></html>
